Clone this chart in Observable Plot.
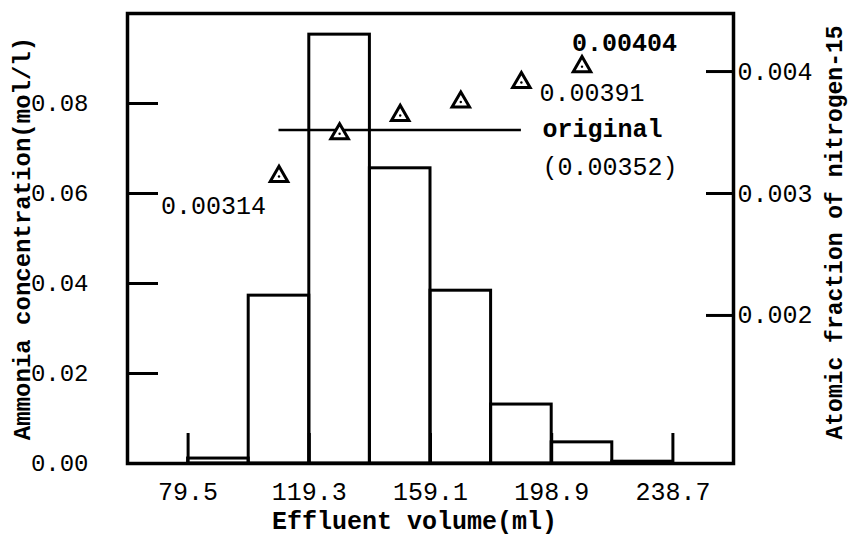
<!DOCTYPE html>
<html>
<head>
<meta charset="utf-8">
<script src="https://cdn.jsdelivr.net/npm/d3@7"></script>
<script src="https://cdn.jsdelivr.net/npm/@observablehq/plot@0.6"></script>
<style>
  html, body { margin: 0; padding: 0; background: #fff; }
  #chart { width: 851px; height: 539px; }
</style>
</head>
<body>
<div id="chart"></div>
<script>
// ---- data ----
const binEdges = [79.5, 99.4, 119.3, 139.2, 159.1, 179.0, 198.9, 218.8, 238.7];   // effluent volume (ml)
const ammonia  = [0.0011, 0.0373, 0.0953, 0.0656, 0.0384, 0.0131, 0.0047, 0.0004]; // mol/l per fraction
const n15Volume = [109.35, 129.25, 149.15, 169.05, 188.95, 208.85];                  // fraction centres
const n15Fraction = [0.00314, 0.00349, 0.00364, 0.00375, 0.00391, 0.00404];
const originalN15 = 0.00352;
const originalSpan = [109.35, 188.95];
const xTicks = [79.5, 119.3, 159.1, 198.9, 238.7];
const yTicks = [0.00, 0.02, 0.04, 0.06, 0.08];
const rightTicks = [0.002, 0.003, 0.004];
const labelledPoints = [0, 4, 5];

// right axis (atomic fraction) mapped onto the left scale: 0.003 sits at 0.06
const rightAnchor = [0.003, 0.06];
const rightSlope = 27.1;
const toLeft = v => rightAnchor[1] + (v - rightAnchor[0]) * rightSlope;
const fromLeft = y => rightAnchor[0] + (y - rightAnchor[1]) / rightSlope;

const bars = ammonia.map((v, i) => ({x1: binEdges[i], x2: binEdges[i + 1], y: v}));
const pts = n15Fraction.map((v, i) => ({x: n15Volume[i], v, y: toLeft(v)}));
const orig = [{x1: originalSpan[0], x2: originalSpan[1], y: toLeft(originalN15)}];

const FONT = "'Liberation Mono', 'Courier New', monospace";

const chart = Plot.plot({
  width: 851,
  height: 539,
  marginLeft: 127,
  marginRight: 118,
  marginTop: 13,
  marginBottom: 76,
  x: {domain: [binEdges[0] - 19.9, binEdges[binEdges.length - 1] + 19.9], label: null},
  y: {domain: [0, 0.1], label: null},
  style: {fontFamily: FONT, fontSize: "24px", color: "#000", background: "#fff"},
  marks: [
    Plot.rect(bars, {x1: "x1", x2: "x2", y1: 0, y2: "y", fill: "none", stroke: "#000", strokeWidth: 3}),
    Plot.ruleY(orig, {y: "y", x1: "x1", x2: "x2", stroke: "#000", strokeWidth: 2.5}),
    Plot.dot(pts, {x: "x", y: "y", symbol: "triangle", r: 6.5, stroke: "#000", strokeWidth: 3, fill: "#fff"}),
    Plot.dot(pts, {x: "x", y: "y", r: 1.2, fill: "#000"}),
    Plot.frame({stroke: "#000", strokeWidth: 3.5}),
    // x axis: inward ticks + labels
    Plot.axisX(xTicks, {tickSize: -30, strokeWidth: 3, fill: "none", label: null}),
    Plot.axisX(xTicks, {tickSize: 0, tickPadding: 19, tickFormat: d => d.toFixed(1), fontSize: 25, label: null}),
    // left axis
    Plot.axisY(yTicks, {anchor: "left", tickSize: -31, strokeWidth: 3, fill: "none", label: null}),
    Plot.axisY(yTicks, {anchor: "left", tickSize: 0, tickPadding: 39, tickFormat: d => d.toFixed(2), label: null}),
    // right axis
    Plot.axisY(rightTicks.map(toLeft), {anchor: "right", tickSize: -28, strokeWidth: 3, fill: "none", label: null}),
    Plot.axisY(rightTicks.map(toLeft), {anchor: "right", tickSize: 0, tickPadding: 4, fontSize: 25, tickFormat: d => fromLeft(d).toFixed(3), label: null}),
    // annotations
    Plot.text([pts[labelledPoints[0]]], {x: "x", y: "y", text: d => d.v.toFixed(5), textAnchor: "end", dx: -13, dy: 30, fontSize: 25}),
    Plot.text([pts[labelledPoints[1]]], {x: "x", y: "y", text: d => d.v.toFixed(5), textAnchor: "start", dx: 18, dy: 10, fontSize: 25}),
    Plot.text([pts[labelledPoints[2]]], {x: "x", y: "y", text: d => d.v.toFixed(5), textAnchor: "start", dx: -10, dy: -24, fontSize: 25, fontWeight: "bold"}),
    Plot.text(orig, {x: "x2", y: "y", text: () => "original", textAnchor: "start", dx: 21, dy: -1, fontSize: 25, fontWeight: "bold"}),
    Plot.text(orig, {x: "x2", y: "y", text: () => `(${originalN15.toFixed(5)})`, textAnchor: "start", dx: 21, dy: 37, fontSize: 25}),
    // axis titles
    Plot.text(["Ammonia concentration(mol/l)"], {frameAnchor: "left", textAnchor: "middle", rotate: -90, dx: -105, fontWeight: "bold", fontSize: 24}),
    Plot.text(["Atomic fraction of nitrogen-15"], {frameAnchor: "right", textAnchor: "middle", rotate: -90, dx: 101, dy: -6, fontWeight: "bold", fontSize: 23}),
    Plot.text(["Effluent volume(ml)"], {frameAnchor: "bottom", textAnchor: "middle", dy: 65, dx: -16, fontWeight: "bold", fontSize: 25})
  ]
});
document.getElementById("chart").appendChild(chart);
</script>
</body>
</html>
